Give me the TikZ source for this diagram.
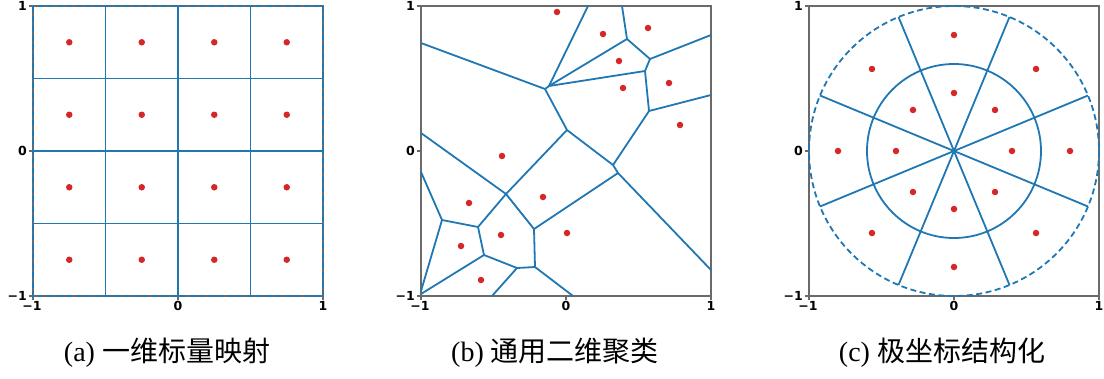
\documentclass[tikz,border=0pt]{standalone}
\usepackage{fontspec}
\usetikzlibrary{calc}
\setmainfont{Liberation Serif}
\newfontfamily\cjkfont{Noto Sans CJK SC}
\newfontfamily\tickfont{DejaVu Sans}
\definecolor{mplblue}{HTML}{1F77B4}
\definecolor{mplred}{HTML}{D62728}
\definecolor{spinegrey}{HTML}{6A6A6A}
\tikzset{
  spine/.style={draw=spinegrey, line width=1.6pt},
  tickmark/.style={draw=spinegrey, line width=1.3pt},
  edge/.style={draw=mplblue, line width=1.8pt},
  dashedge/.style={draw=mplblue, line width=1.8pt, dash pattern=on 6pt off 3.5pt},
  dot/.style={circle, fill=mplred, inner sep=0pt, minimum size=6.5pt},
  ylab/.style={anchor=east, inner sep=0pt, font=\tickfont\bfseries\fontsize{12.5}{12.5}\selectfont},
  xlab/.style={anchor=north, inner sep=0pt, font=\tickfont\bfseries\fontsize{12.5}{12.5}\selectfont},
  caption/.style={inner sep=0pt, font=\fontsize{28}{28}\selectfont}
}
% #1 = left x of axes box, #2 = name prefix
\newcommand{\myaxes}[2]{%
  \draw[spine] (#1,6) rectangle (#1+290,296);
  \foreach \k in {0,145,290} {
    \draw[tickmark] (#1+\k,296) -- ++(0,4);
  }
  \foreach \k in {6,151,296} {
    \draw[tickmark] (#1,\k) -- ++(-4,0);
  }
  \node[ylab] (#2y1) at (#1-6,6) {1};
  \node[ylab] (#2y0) at (#1-6,151) {0};
  \node[ylab] (#2ym) at (#1-6,296) {−1};
  \node[xlab] (#2xm) at (#1-1,301) {−1};
  \node[xlab] (#2x0) at (#1+145,301) {0};
  \node[xlab] (#2x1) at (#1+290,301) {1};
}
\begin{document}
\begin{tikzpicture}[x=1pt,y=-1pt]
\useasboundingbox (0,0) rectangle (1104,378);

% ---------------- panel (a) ----------------
\myaxes{33}{a}
\foreach \v in {105.5,178,250.5} {
  \draw[edge] (\v,6) -- (\v,296);
}
\foreach \v in {78.5,151,223.5} {
  \draw[edge] (33,\v) -- (323,\v);
}
\draw[dashedge] (33,6) rectangle (323,296);
\foreach \px in {69.25,141.75,214.25,286.75} {
  \foreach \py in {42.25,114.75,187.25,259.75} {
    \node[dot] at (\px,\py) {};
  }
}
\node[caption] (capa) at (167,353) {(a) {\cjkfont 一维标量映射}};

% ---------------- panel (b) ----------------
\myaxes{421}{b}
\coordinate (A) at (545,89);
\coordinate (B) at (549,86);
\coordinate (C) at (627,39);
\coordinate (D) at (645,71);
\coordinate (E) at (650,59);
\coordinate (F) at (649,111);
\coordinate (G1) at (613,165);
\coordinate (G2) at (618,173);
\coordinate (H) at (567,130);
\coordinate (I) at (506,194);
\coordinate (J) at (478,227);
\coordinate (K) at (534,229);
\coordinate (L) at (442,220);
\coordinate (M) at (484,255);
\coordinate (N) at (517,268);
\coordinate (O) at (535,267);
\coordinate (l1) at (421,43);
\coordinate (l2) at (421,133);
\coordinate (l3) at (421,172);
\coordinate (l4) at (421,291);
\coordinate (l5) at (421,294);
\coordinate (t1) at (588,6);
\coordinate (t2) at (622,6);
\coordinate (r1) at (711,35);
\coordinate (r2) at (711,95);
\coordinate (r3) at (711,270);
\coordinate (b1) at (492,296);
\coordinate (b2) at (573,296);
\draw[edge] (l1) -- (A);
\draw[edge] (A) -- (B);
\draw[edge] (A) -- (H);
\draw[edge] (B) -- (t1);
\draw[edge] (B) -- (C);
\draw[edge] (B) -- (D);
\draw[edge] (C) -- (t2);
\draw[edge] (C) -- (E);
\draw[edge] (E) -- (r1);
\draw[edge] (E) -- (D);
\draw[edge] (D) -- (F);
\draw[edge] (F) -- (r2);
\draw[edge] (F) -- (G1);
\draw[edge] (G1) -- (G2);
\draw[edge] (G1) -- (H);
\draw[edge] (G2) -- (K);
\draw[edge] (G2) -- (r3);
\draw[edge] (H) -- (I);
\draw[edge] (I) -- (l2);
\draw[edge] (I) -- (J);
\draw[edge] (I) -- (K);
\draw[edge] (J) -- (L);
\draw[edge] (J) -- (M);
\draw[edge] (L) -- (l3);
\draw[edge] (L) -- (l4);
\draw[edge] (M) -- (l5);
\draw[edge] (M) -- (N);
\draw[edge] (N) -- (O);
\draw[edge] (N) -- (b1);
\draw[edge] (O) -- (K);
\draw[edge] (O) -- (b2);
\foreach \p in {(557,12),(603,34),(648,28),(619,61),(623,88),(669,83),(680,125),
                (502,156),(469,203),(543,197),(461,246),(501,235),(567,233),(481,280)} {
  \node[dot] at \p {};
}
\node[caption] (capb) at (555,353) {(b) {\cjkfont 通用二维聚类}};

% ---------------- panel (c) ----------------
\myaxes{809}{c}
\coordinate (ctr) at (954,151);
\draw[edge] (ctr) circle[radius=87];
\draw[dashedge] (ctr) circle[radius=145];
\foreach \a in {22.5,67.5,...,337.5} {
  \draw[edge] (ctr) -- ++(\a:145);
}
\foreach \a in {0,45,...,315} {
  \node[dot] at ($(ctr)+(\a:58)$) {};
  \node[dot] at ($(ctr)+(\a:116)$) {};
}
\node[caption] (capc) at (942,353) {(c) {\cjkfont 极坐标结构化}};
\end{tikzpicture}
\end{document}
